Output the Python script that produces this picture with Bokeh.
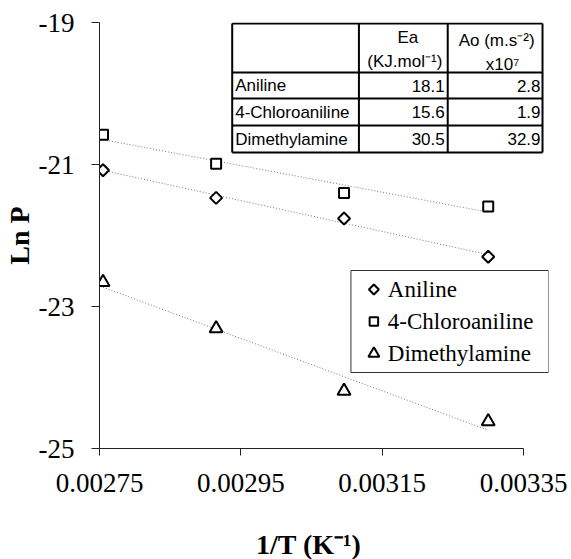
import numpy as np
from bokeh.plotting import figure
from bokeh.layouts import column
from bokeh.models import (Range1d, FixedTicker, PrintfTickFormatter)
from bokeh.core.properties import value
from bokeh.embed import file_html
from bokeh.resources import INLINE

# ---- data ----
inv_T = [0.002755, 0.002915, 0.003096, 0.003300]
aniline = [-21.08, -21.47, -21.76, -22.30]
chloroaniline = [-20.58, -20.99, -21.40, -21.59]
dimethylamine = [-22.66, -23.31, -24.19, -24.62]
series_names = ["Aniline", "4-Chloroaniline", "Dimethylamine"]

x_ticks = [0.00275, 0.00295, 0.00315, 0.00335]
y_ticks = [-25, -23, -21, -19]
x_title = "1/T (K\u207b\u00b9)"
y_title = "Ln P"

table_compounds = ["Aniline", "4-Chloroaniline", "Dimethylamine"]
table_ea = [18.1, 15.6, 30.5]
table_ao = [2.8, 1.9, 32.9]

# ---- layout ----
W = 571
H_MAIN, H_TITLE = 525, 34
FL, FT, FW, FH = 98, 22, 450, 426
X0 = 0.00275
X1 = X0 + FW * (0.0006 / 425.0)
Y0, Y1 = -25, -19

def dx(px):
    return X0 + (px - FL) / FW * (X1 - X0)

def dy(py):
    return Y1 - (py - FT) / FH * (Y1 - Y0)

xr = Range1d(X0, X1)
p = figure(width=W, height=H_MAIN, output_backend="svg", toolbar_location=None,
           x_range=xr, y_range=Range1d(Y0, Y1),
           min_border_left=FL, min_border_right=W - FL - FW,
           min_border_top=FT, min_border_bottom=H_MAIN - FT - FH)
p.outline_line_color = None
p.xgrid.visible = False
p.ygrid.visible = False
p.background_fill_color = "white"
p.border_fill_color = "white"

serif = "Liberation Serif"

# axes
xa = p.xaxis[0]
xa.ticker = FixedTicker(ticks=x_ticks)
xa.formatter = PrintfTickFormatter(format="%.5f")
xa.bounds = (x_ticks[0], x_ticks[-1])
xa.major_tick_out = 7
xa.major_tick_in = 0
xa.minor_tick_line_color = None
xa.axis_line_color = "#222222"
xa.major_tick_line_color = "#222222"
xa.major_label_text_font = serif
xa.major_label_text_font_size = "27px"
xa.major_label_text_color = "black"
xa.major_label_standoff = 18

ya = p.yaxis[0]
ya.ticker = FixedTicker(ticks=y_ticks)
ya.formatter = PrintfTickFormatter(format="%d")
ya.major_tick_out = 8
ya.major_tick_in = 0
ya.minor_tick_line_color = None
ya.axis_line_color = "#222222"
ya.major_tick_line_color = "#222222"
ya.major_label_text_font = serif
ya.major_label_text_font_size = "27px"
ya.major_label_text_color = "black"
ya.major_label_standoff = 17
ya.axis_label = y_title
ya.axis_label_text_font = serif
ya.axis_label_text_font_style = "bold"
ya.axis_label_text_font_size = "28px"
ya.axis_label_text_color = "black"
ya.axis_label_standoff = 1

# trend lines and markers
series = [aniline, chloroaniline, dimethylamine]
markers = [("square", np.pi / 4, 8.5), ("square", 0.0, 10), ("triangle", 0.0, 13)]
xs = np.array(inv_T)
for ys in series:
    k, b = np.polyfit(xs, np.array(ys), 1)
    lx = [xs.min(), xs.max()]
    p.line(lx, [k * v + b for v in lx], line_color="#777777", line_width=1,
           line_dash="1 2")
for ys, (mk, ang, sz) in zip(series, markers):
    p.scatter(inv_T, ys, marker=mk, angle=ang, size=sz, fill_color="white",
              line_color="black", line_width=2)

# legend (drawn by hand so that the diamond keeps its shape)
LG_L, LG_R, LG_T, LG_B = 350, 548, 270, 372
leg_rows = [289, 321, 353]
p.quad(left=dx(LG_L), right=dx(LG_R), top=dy(LG_T), bottom=dy(LG_B),
       fill_color="white", line_color="#333333", line_width=1)
leg_sizes = [7, 8.5, 11]
for (mk, ang, _), row, sz in zip(markers, leg_rows, leg_sizes):
    p.scatter([dx(373)], [dy(row)], marker=mk, angle=ang, size=sz,
              fill_color="white", line_color="black", line_width=2)
p.text([dx(387)] * 3, [dy(r) for r in leg_rows], text=series_names,
       text_font=value(serif), text_font_size="23px", text_align="left",
       text_baseline="middle", text_color="black")

# table
col_x = [231, 358, 447, 542]
row_y = [23, 72, 98, 125, 152]
seg_x0 = [dx(c) for c in col_x] + [dx(col_x[0])] * len(row_y)
seg_x1 = [dx(c) for c in col_x] + [dx(col_x[-1])] * len(row_y)
seg_y0 = [dy(row_y[0])] * len(col_x) + [dy(r) for r in row_y]
seg_y1 = [dy(row_y[-1])] * len(col_x) + [dy(r) for r in row_y]
p.quad(left=dx(col_x[0]), right=dx(col_x[-1]), top=dy(row_y[0]), bottom=dy(row_y[-1]),
       fill_color="white", line_color=None)
p.segment(seg_x0, seg_y0, seg_x1, seg_y1, line_color="black", line_width=2)

sans = value("Liberation Sans")
row_centers = [(row_y[i] + row_y[i + 1]) / 2 for i in range(1, 4)]
p.text([dx(234)] * 3, [dy(c) for c in row_centers], text=table_compounds,
       text_font=sans, text_font_size="17px", text_align="left",
       text_baseline="middle", text_color="black")
p.text([dx(444)] * 3, [dy(c) for c in row_centers], text=["%.1f" % v for v in table_ea],
       text_font=sans, text_font_size="17px", text_align="right",
       text_baseline="middle", text_color="black")
p.text([dx(540)] * 3, [dy(c) for c in row_centers], text=["%.1f" % v for v in table_ao],
       text_font=sans, text_font_size="17px", text_align="right",
       text_baseline="middle", text_color="black")
p.text([dx(407), dx(404), dx(496), dx(502)], [dy(37), dy(61), dy(40), dy(64)],
       text=["Ea", "(KJ.mol\u207b\u00b9)", "Ao (m.s\u207b\u00b2)", "x10\u2077"],
       text_font=sans, text_font_size="17px", text_align="center",
       text_baseline="middle", text_color="black")

# x axis title strip, sharing the x scale so the title is centred under the axis
t = figure(width=W, height=H_TITLE, output_backend="svg", toolbar_location=None,
           x_range=xr, y_range=Range1d(0, 1),
           x_axis_location=None, y_axis_location=None,
           min_border_left=FL, min_border_right=W - FL - FW,
           min_border_top=0, min_border_bottom=0)
t.outline_line_color = None
t.xgrid.visible = False
t.ygrid.visible = False
t.background_fill_color = "white"
t.border_fill_color = "white"
t.text([(x_ticks[0] + x_ticks[-1]) / 2 - (x_ticks[1] - x_ticks[0]) * 0.02], [0.45],
       text=[x_title], text_font=value(serif), text_font_style="bold",
       text_font_size="28px", text_align="center", text_baseline="middle",
       text_color="black")

layout = column(p, t, spacing=0)
open("out.html", "w").write(file_html(layout, INLINE))
